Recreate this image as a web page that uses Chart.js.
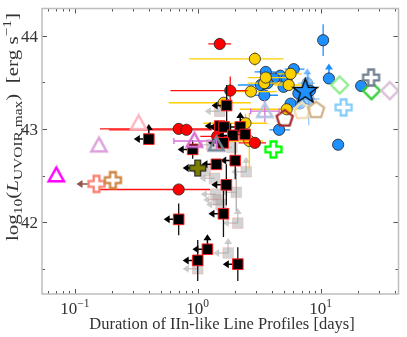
<!DOCTYPE html>
<html>
<head>
<meta charset="utf-8">
<script src="https://cdn.jsdelivr.net/npm/chart.js@4"></script>
<style>
  html, body { margin: 0; background: #fff; }
</style>
</head>
<body>
<canvas id="grafica" width="407" height="337"></canvas>
<script>
// --- datos ---
// círculos rojos
const rojoX = [1.51, 1.84, 0.70, 0.81, 1.44, 0.70, 2.92];
const rojoY = [43.91, 43.41, 43.00, 42.99, 42.92, 42.35, 42.85];
const rojoXMin = [1.22, 0.60, 0.16, 0.19, 1.05, 0.16, 2.15];
const rojoXMax = [1.87, 2.55, 1.35, 1.30, 2.00, 1.26, 3.60];
const rojoYErr = [0.06, 0.15, 0.04, 0.03, 0.05, 0.03, 0.05];

// círculos amarillos
const amarilloX = [2.92, 2.71, 1.63, 3.48, 3.58, 5.70, 5.50, 5.30, 2.45, 2.63];
const amarilloY = [43.75, 43.40, 43.28, 43.49, 43.55, 43.59, 43.47, 43.21, 43.06, 42.87];
const amarilloXMin = [0.85, 1.76, 0.58, 2.55, 2.55, 4.45, 4.20, 2.20, 1.11, 1.76];
const amarilloXMax = [5.00, 4.40, 2.70, 5.30, 5.35, 7.05, 7.05, 6.40, 3.70, 3.40];
const amarilloYErr = [0.08, 0.05, 0.05, 0.04, 0.05, 0.04, 0.04, 0.05, 0.10, 0.30];

// círculos azules
const azulX = [10.5, 11.7, 21.4, 13.9, 4.6, 3.58, 6.05, 4.7, 4.17, 3.7, 3.27, 3.48, 5.0, 5.7, 6.6, 8.2, 5.3];
const azulY = [43.95, 43.54, 43.46, 42.83, 42.99, 43.61, 43.64, 43.57, 43.54, 43.49, 43.47, 43.36, 43.45, 43.27, 43.38, 43.41, 43.54];
const azulXMin = [10.0, null, null, null, 3.83, 2.9, 5.1, null, null, null, 2.12, 2.8, null, null, null, null, null];
const azulXMax = [11.0, null, null, null, 5.65, 4.3, 7.4, null, null, null, 3.6, 4.5, null, null, null, null, null];
const azulYErr = [0.17, 0, 0, 0, 0.05, 0.05, 0.04, 0, 0, 0, 0, 0.04, 0, 0, 0, 0, 0];
const azulLimY = [0, 1, 0, 0, 0, 0, 0, 0, 0, 0, 0, 0, 0, 0, 0, 0, 0];

// azul claro (semitransparente)
const azulClaroX = [6.8, 7.8, 8.0];
const azulClaroY = [43.27, 43.49, 43.32];
const azulClaroXMin = [5.9, 6.5, 6.6];
const azulClaroXMax = [7.9, 9.0, 9.8];
const azulClaroYErr = [0.05, 0.05, 0.28];
const azulClaroLimY = [0, 1, 0];

// estrella
const estrellaX = [7.5];
const estrellaY = [43.40];

// cuadrados negros (límites superiores en x)
const negroX = [0.40, 1.72, 1.51, 1.64, 2.22, 1.93, 2.43, 1.61, 0.91, 1.42, 2.02, 1.71, 0.70, 1.62, 1.20, 1.00, 2.12];
const negroY = [42.89, 43.25, 43.03, 43.02, 43.02, 42.93, 42.94, 42.85, 42.78, 42.62, 42.66, 42.40, 42.03, 42.09, 41.71, 41.59, 41.55];
const negroYErr = [0, 0.22, 0, 0, 0, 0, 0, 0, 0.10, 0, 0.20, 0.22, 0.17, 0.25, 0, 0.22, 0.18];
const negroLimY = [1, 0, 0, 0, 1, 0, 0, 0, 0, 0, 0, 0, 0, 0, 1, 0, 0];

// cuadrados grises
const grisX = [1.51, 2.48, 2.06, 1.47, 1.55, 2.12, 1.77, 1.00, 1.15, 1.37, 1.30, 1.90, 1.40];
const grisY = [43.19, 42.54, 42.32, 42.24, 42.19, 41.99, 41.67, 41.50, 42.55, 42.47, 42.83, 42.80, 42.30];
const grisYErr = [0, 0, 0.2, 0, 0, 0, 0, 0, 0, 0, 0, 0, 0];
const grisLimY = [0, 1, 0, 0, 0, 1, 1, 0, 0, 0, 0, 0, 0];

// triángulos abiertos
const trianguloX = [0.0706, 0.157, 0.33, 0.94, 1.42, 3.52];
const trianguloY = [42.50, 42.82, 43.06, 42.87, 42.83, 43.19];
const trianguloXMin = [null, null, null, 0.64, null, 2.7];
const trianguloXMax = [null, null, null, 1.38, null, 4.6];
const trianguloYErr = [0, 0, 0, 0, 0.06, 0.12];
const trianguloColor = ['#ff00ff', '#dda0dd', '#ffb6c1', '#da70d6', '#778899', '#b0c4de'];

// pentágonos abiertos
const pentagonoX = [5.1, 7.06, 9.2];
const pentagonoY = [43.11, 43.19, 43.20];
const pentagonoColor = ['#a52a2a', '#f5deb3', '#d2b48c'];

// cruces abiertas
const cruzX = [4.13, 15.4, 25.8, 0.15, 0.204];
const cruzY = [42.78, 43.23, 43.55, 42.41, 42.45];
const cruzLimX = [0, 0, 0, 1, 0];
const cruzColor = ['#00ff00', '#87cefa', '#708090', '#fa8072', '#cd853f'];

// cruz oliva
const olivaX = [1.0];
const olivaY = [42.58];

// rombos abiertos
const romboX = [14.3, 26.0, 36.6];
const romboY = [43.47, 43.41, 43.41];
const romboColor = ['#90ee90', '#32cd32', '#d8bfd8'];

const ticksY = [42, 43, 44];
const ticksX = [0.1, 1, 10];
const ticksXTexto = ['\u22121', '0', '1'];

const fuente = '"Liberation Serif", "DejaVu Serif", serif';

function puntos(xs, ys) {
	return xs.map((v, i) => ({ x: v, y: ys[i] }));
}

function marcador(forma, r, relleno, borde, grosor) {
	const lado = Math.ceil(2 * (r + grosor) + 2);
	const c = document.createElement('canvas');
	c.width = lado;
	c.height = lado;
	const g = c.getContext('2d');
	g.translate(lado / 2, lado / 2);
	g.beginPath();
	if (forma === 'tri') {
		g.moveTo(0, -r);
		g.lineTo(-0.95 * r, 0.72 * r);
		g.lineTo(0.95 * r, 0.72 * r);
	} else if (forma === 'pent' || forma === 'star') {
		const n = forma === 'pent' ? 5 : 10;
		for (let k = 0; k < n; k++) {
			const a = -Math.PI / 2 + k * 2 * Math.PI / n;
			const rr = forma === 'star' && k % 2 ? r * 0.4 : r;
			g.lineTo(rr * Math.cos(a), rr * Math.sin(a));
		}
	} else if (forma === 'plus') {
		const a = r * 0.36;
		g.moveTo(-a, -r); g.lineTo(a, -r); g.lineTo(a, -a); g.lineTo(r, -a);
		g.lineTo(r, a); g.lineTo(a, a); g.lineTo(a, r); g.lineTo(-a, r);
		g.lineTo(-a, a); g.lineTo(-r, a); g.lineTo(-r, -a); g.lineTo(-a, -a);
	} else if (forma === 'diam') {
		g.moveTo(0, -r); g.lineTo(r, 0); g.lineTo(0, r); g.lineTo(-r, 0);
	}
	g.closePath();
	g.lineJoin = 'miter';
	if (relleno) {
		g.fillStyle = relleno;
		g.fill();
	}
	g.lineWidth = grosor;
	g.strokeStyle = borde;
	g.stroke();
	return c;
}

function flecha(ctx, x0, y0, dx, dy, largo, color) {
	const x1 = x0 + dx * largo, y1 = y0 + dy * largo;
	ctx.strokeStyle = color;
	ctx.fillStyle = color;
	ctx.lineWidth = 1.5;
	ctx.beginPath();
	ctx.moveTo(x0, y0);
	ctx.lineTo(x1 - dx * 5, y1 - dy * 5);
	ctx.stroke();
	const nx = -dy, ny = dx;
	ctx.beginPath();
	ctx.moveTo(x1, y1);
	ctx.lineTo(x1 - dx * 6 + nx * 4, y1 - dy * 6 + ny * 4);
	ctx.lineTo(x1 - dx * 6 - nx * 4, y1 - dy * 6 - ny * 4);
	ctx.closePath();
	ctx.fill();
}

// barras de error y flechas, dibujadas justo antes de cada serie
const extras = {
	id: 'extras',
	beforeDatasetDraw(chart, args) {
		const ds = chart.data.datasets[args.index];
		const { ctx, chartArea: area } = chart;
		const sx = chart.scales.x, sy = chart.scales.y;
		ctx.save();
		ctx.beginPath();
		ctx.rect(area.left, area.top, area.width, area.height);
		ctx.clip();
		ds.data.forEach((p, i) => {
			const px = sx.getPixelForValue(p.x), py = sy.getPixelForValue(p.y);
			ctx.strokeStyle = ds.colorBarra;
			ctx.lineWidth = 1.3;
			if (ds.xMin && ds.xMin[i]) {
				const a = sx.getPixelForValue(ds.xMin[i]), b = sx.getPixelForValue(ds.xMax[i]);
				ctx.beginPath();
				ctx.moveTo(a, py);
				ctx.lineTo(b, py);
				if (ds.tapa) {
					ctx.moveTo(a, py - 3); ctx.lineTo(a, py + 3);
					ctx.moveTo(b, py - 3); ctx.lineTo(b, py + 3);
				}
				ctx.stroke();
			}
			if (ds.yErr && ds.yErr[i]) {
				ctx.beginPath();
				ctx.moveTo(px, sy.getPixelForValue(p.y - ds.yErr[i]));
				ctx.lineTo(px, sy.getPixelForValue(p.y + ds.yErr[i]));
				ctx.stroke();
			}
			if (ds.limX && ds.limX[i]) flecha(ctx, px, py, -1, 0, ds.largoFlecha || 15, ds.colorFlecha);
			if (ds.limY && ds.limY[i]) flecha(ctx, px, py, 0, -1, 15, ds.colorFlecha);
		});
		ctx.restore();
	}
};

// texto con sub/superíndices; si se da "ancho", se estira hasta esa longitud
function textoMixto(ctx, piezas, x, y, ancho) {
	let total = 0;
	piezas.forEach(p => { ctx.font = p[1]; total += ctx.measureText(p[0]).width; });
	ctx.save();
	ctx.translate(x, y);
	if (ancho) ctx.scale(ancho / total, 1);
	let cx = -total / 2;
	piezas.forEach(p => {
		ctx.font = p[1];
		ctx.fillText(p[0], cx, p[2] || 0);
		cx += ctx.measureText(p[0]).width;
	});
	ctx.restore();
}

// marco, marcas hacia dentro y textos
const ejes = {
	id: 'ejes',
	afterDraw(chart) {
		const { ctx, chartArea: a } = chart;
		const sx = chart.scales.x, sy = chart.scales.y;
		ctx.save();
		ctx.strokeStyle = '#555';
		ctx.lineWidth = 1;
		ctx.beginPath();
		for (let n = -2; n <= 1; n++) {
			for (let k = 1; k <= 9; k++) {
				const v = k * Math.pow(10, n);
				if (v < sx.min || v > sx.max) continue;
				const px = Math.round(sx.getPixelForValue(v)) + 0.5;
				const l = k === 1 ? 5 : 3;
				ctx.moveTo(px, a.bottom); ctx.lineTo(px, a.bottom - l);
				ctx.moveTo(px, a.top); ctx.lineTo(px, a.top + l);
			}
		}
		for (let v = 41.5; v <= 44; v += 0.5) {
			const py = Math.round(sy.getPixelForValue(v)) + 0.5;
			const l = v % 1 === 0 ? 5 : 3;
			ctx.moveTo(a.left, py); ctx.lineTo(a.left + l, py);
			ctx.moveTo(a.right, py); ctx.lineTo(a.right - l, py);
		}
		ctx.stroke();
		ctx.strokeStyle = '#bdbdbd';
		ctx.lineWidth = 1.5;
		ctx.strokeRect(a.left, a.top, a.right - a.left, a.bottom - a.top);

		ctx.fillStyle = '#333';
		ctx.textBaseline = 'alphabetic';
		ctx.textAlign = 'right';
		ctx.font = '17px ' + fuente;
		ticksY.forEach(v => ctx.fillText(String(v), 38, sy.getPixelForValue(v) + 6));
		ctx.textAlign = 'left';
		ticksX.forEach((v, i) => {
			textoMixto(ctx, [['10', '17px ' + fuente], [ticksXTexto[i], '11.5px ' + fuente, -7]], sx.getPixelForValue(v), 314);
		});
		textoMixto(ctx, [['Duration of IIn-like Line Profiles [days]', '16.5px ' + fuente]], 222, 329);

		ctx.translate(13, 127);
		ctx.rotate(-Math.PI / 2);
		textoMixto(ctx, [
			['log', '17px ' + fuente],
			['10', '12.5px ' + fuente, 4],
			['(', '17px ' + fuente],
			['L', 'italic 17px ' + fuente],
			['UVOIR,max', '12.5px ' + fuente, 4],
			[')  [erg s', '17px ' + fuente],
			['\u22121', '12.5px ' + fuente, -7],
			[']', '17px ' + fuente]
		], 0, 5, 228);
		ctx.restore();
	}
};

const ctx = document.getElementById('grafica');

new Chart(ctx, {
	type: 'scatter',
	data: {
		datasets: [
			{
				data: puntos(estrellaX, estrellaY),
				pointStyle: marcador('star', 13, '#1e90ff', '#000', 1.3)
			},
			{
				data: puntos(trianguloX, trianguloY),
				pointStyle: trianguloColor.map(c => marcador('tri', 8, null, c, 2.5)),
				xMin: trianguloXMin, xMax: trianguloXMax, yErr: trianguloYErr,
				colorBarra: '#da70d6', tapa: true
			},
			{
				data: puntos(pentagonoX, pentagonoY),
				pointStyle: pentagonoColor.map(c => marcador('pent', 8.5, null, c, 2.3))
			},
			{
				data: puntos(cruzX, cruzY),
				pointStyle: cruzColor.map(c => marcador('plus', 8, '#fff', c, 2.3)),
				limX: cruzLimX, colorFlecha: '#8c564b', largoFlecha: 20
			},
			{
				data: puntos(romboX, romboY),
				pointStyle: romboColor.map(c => marcador('diam', 8.5, null, c, 2.3))
			},
			{
				data: puntos(olivaX, olivaY),
				pointStyle: marcador('plus', 8, '#808000', '#222', 1.2),
				limX: [1], colorFlecha: '#000'
			},
			{
				data: puntos(negroX, negroY),
				pointStyle: 'rect', pointRadius: 7.5,
				backgroundColor: '#000', borderColor: '#ff2020', borderWidth: 1,
				yErr: negroYErr, limX: negroX.map(() => 1), limY: negroLimY,
				colorBarra: '#111', colorFlecha: '#000'
			},
			{
				data: puntos(rojoX, rojoY),
				pointStyle: 'circle', pointRadius: 5.6,
				backgroundColor: '#ff0000', borderColor: '#222', borderWidth: 0.8,
				xMin: rojoXMin, xMax: rojoXMax, yErr: rojoYErr, colorBarra: '#ff1010'
			},
			{
				data: puntos(amarilloX, amarilloY),
				pointStyle: 'circle', pointRadius: 5.6,
				backgroundColor: '#ffd000', borderColor: '#222', borderWidth: 0.8,
				xMin: amarilloXMin, xMax: amarilloXMax, yErr: amarilloYErr, colorBarra: '#ffd000'
			},
			{
				data: puntos(azulX, azulY),
				pointStyle: 'circle', pointRadius: 5.6,
				backgroundColor: '#1e90ff', borderColor: '#222', borderWidth: 0.8,
				xMin: azulXMin, xMax: azulXMax, yErr: azulYErr, limY: azulLimY,
				colorBarra: '#1e90ff', colorFlecha: '#1e90ff'
			},
			{
				data: puntos(azulClaroX, azulClaroY),
				pointStyle: 'circle', pointRadius: 5.6,
				backgroundColor: 'rgba(30,144,255,0.45)', borderColor: 'rgba(30,30,30,0.3)', borderWidth: 0.8,
				xMin: azulClaroXMin, xMax: azulClaroXMax, yErr: azulClaroYErr, limY: azulClaroLimY,
				colorBarra: 'rgba(30,144,255,0.45)', colorFlecha: 'rgba(30,144,255,0.6)'
			},
			{
				data: puntos(grisX, grisY),
				pointStyle: 'rect', pointRadius: 7.5,
				backgroundColor: 'rgba(160,160,160,0.45)', borderColor: 'rgba(240,140,140,0.3)', borderWidth: 1,
				yErr: grisYErr, limX: grisX.map(() => 1), limY: grisLimY,
				colorBarra: 'rgba(120,120,120,0.6)', colorFlecha: 'rgba(170,170,170,0.6)'
			}
		]
	},
	options: {
		responsive: false,
		animation: false,
		events: [],
		layout: { padding: { left: 42, right: 4, top: 4, bottom: 43 } },
		scales: {
			x: { type: 'logarithmic', min: 0.054, max: 43.1, display: false },
			y: { min: 41.23, max: 44.29, display: false }
		},
		plugins: {
			legend: { display: false },
			tooltip: { enabled: false }
		}
	},
	plugins: [extras, ejes]
});
</script>
</body>
</html>
